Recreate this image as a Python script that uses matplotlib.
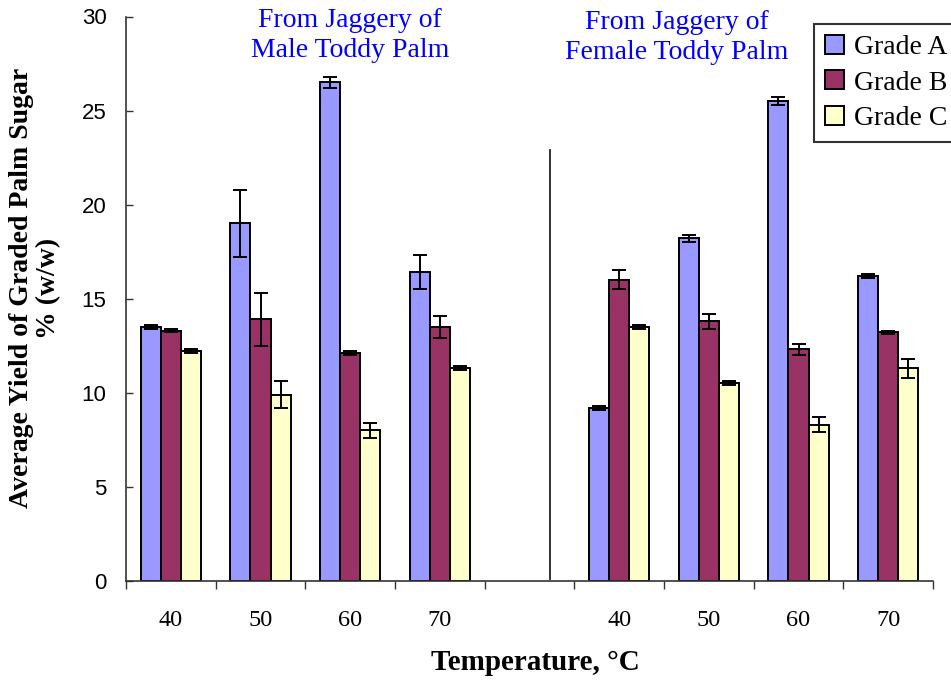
import numpy as np
import matplotlib
matplotlib.use("Agg")
import matplotlib.pyplot as plt
from matplotlib.patches import Patch

# ---- data ----
temps = ["40", "50", "60", "70"]
grades = ["Grade A", "Grade B", "Grade C"]

male_A = [13.5, 19.0, 26.5, 16.4]
male_B = [13.3, 13.9, 12.1, 13.5]
male_C = [12.2, 9.9, 8.0, 11.3]
male_A_err = [0.1, 1.8, 0.3, 0.9]
male_B_err = [0.1, 1.4, 0.1, 0.6]
male_C_err = [0.1, 0.7, 0.4, 0.1]

female_A = [9.2, 18.2, 25.5, 16.2]
female_B = [16.0, 13.8, 12.3, 13.2]
female_C = [13.5, 10.5, 8.3, 11.3]
female_A_err = [0.1, 0.2, 0.2, 0.1]
female_B_err = [0.5, 0.4, 0.3, 0.1]
female_C_err = [0.1, 0.1, 0.4, 0.5]

colors = ["#9999FF", "#993366", "#FFFFCC"]

# ---- figure ----
W, H = 951, 684
fig = plt.figure(figsize=(W / 100, H / 100), dpi=100)
ax = fig.add_axes([126 / W, 1 - 580.7 / H, (933 - 126) / W, (580.7 - 16.5) / H])

male_pos = np.arange(4)
female_pos = np.arange(5, 9)
bw = 0.225

male = [male_A, male_B, male_C]
male_err = [male_A_err, male_B_err, male_C_err]
female = [female_A, female_B, female_C]
female_err = [female_A_err, female_B_err, female_C_err]

ekw = dict(ecolor="black", elinewidth=1.4, capsize=5, capthick=1.4)
for k in range(3):
    off = (k - 1) * bw
    ax.bar(male_pos + off, male[k], bw, color=colors[k], edgecolor="black",
           linewidth=1.4, yerr=male_err[k], error_kw=ekw, zorder=2)
    ax.bar(female_pos + off, female[k], bw, color=colors[k], edgecolor="black",
           linewidth=1.4, yerr=female_err[k], error_kw=ekw, zorder=2)

# divider line between the two groups
divider_x = 4.23
ax.plot([divider_x, divider_x], [0.1, 22.9], color="#222222", lw=1.3)

ax.set_xlim(-0.5, 8.5)
ax.set_ylim(0, 30)
ax.set_yticks(np.arange(0, 31, 5))
ax.tick_params(axis="y", direction="in", length=5, width=1, color="#333333",
               labelsize=16, pad=14)
for lbl in ax.get_yticklabels():
    lbl.set_fontfamily("Liberation Sans")

ax.set_xticks(np.arange(-0.5, 9, 1))
ax.set_xticklabels([])
ax.tick_params(axis="x", which="major", direction="out", length=6, width=1,
               color="#333333")
xcats = temps + [""] + temps
ax.set_xticks(np.arange(9), minor=True)
ax.set_xticklabels(xcats, minor=True, fontfamily="Liberation Serif", fontsize=17.5)
ax.tick_params(axis="x", which="minor", length=0, pad=21)

for s in ["top", "right"]:
    ax.spines[s].set_visible(False)
for s in ["left", "bottom"]:
    ax.spines[s].set_color("#333333")
    ax.spines[s].set_linewidth(1.2)

# axis labels
fig.text(35 / W, 1 - 288 / H, "Average Yield of Graded Palm Sugar\n% (w/w)",
         rotation=90, ha="center", va="center", fontfamily="Liberation Serif",
         fontweight="bold", fontsize=20, linespacing=1.1)
fig.text(535 / W, 1 - 663 / H, "Temperature, °C", ha="center", va="center",
         fontfamily="Liberation Serif", fontweight="bold", fontsize=21)

# group annotations
fig.text(350 / W, 1 - 8 / H, "From Jaggery of\nMale Toddy Palm", ha="center",
         va="top", color="#0000FF", fontfamily="Liberation Serif", fontsize=20,
         linespacing=1.25)
fig.text(677 / W, 1 - 10 / H, "From Jaggery of\nFemale Toddy Palm", ha="center",
         va="top", color="#0000FF", fontfamily="Liberation Serif", fontsize=20,
         linespacing=1.25)

# legend
handles = [Patch(facecolor=c, edgecolor="black", linewidth=1.4) for c in colors]
leg = fig.legend(handles, grades, loc="upper left", bbox_to_anchor=(814 / W, 1 - 24 / H),
                 borderaxespad=0, frameon=True, fancybox=False,
                 prop={"family": "Liberation Serif", "size": 20},
                 handlelength=0.68, handleheight=0.68, handletextpad=0.35,
                 labelspacing=0.36, borderpad=0.4)
leg.get_frame().set_edgecolor("black")
leg.get_frame().set_linewidth(1.5)

fig.savefig("out.png", dpi=100)
